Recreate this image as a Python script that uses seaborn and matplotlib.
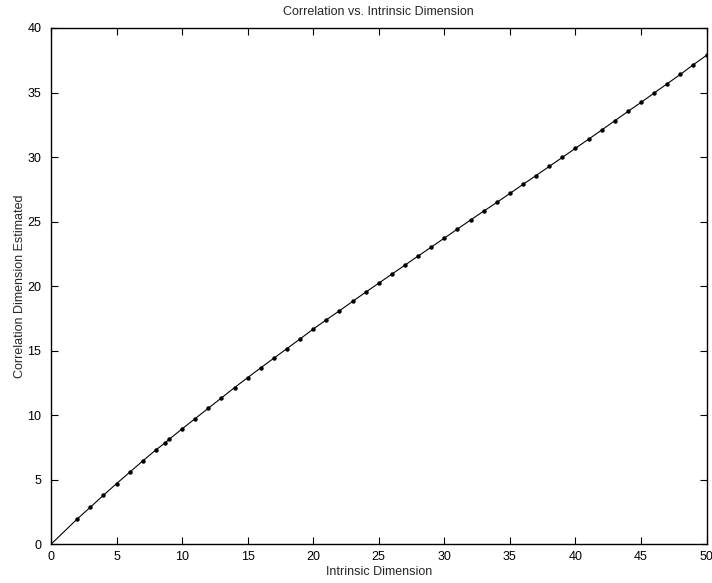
import pandas as pd
import numpy as np
import matplotlib
matplotlib.use("Agg")
import matplotlib.pyplot as plt
import seaborn as sns

# values
intrinsic_dim = [0, 2, 3, 4, 5, 6, 7, 8, 8.67, 9,
                 10, 11, 12, 13, 14, 15, 16, 17, 18, 19,
                 20, 21, 22, 23, 24, 25, 26, 27, 28, 29,
                 30, 31, 32, 33, 34, 35, 36, 37, 38, 39,
                 40, 41, 42, 43, 44, 45, 46, 47, 48, 49, 50]
corr_dim = [0.0, 1.96, 2.87, 3.80, 4.70, 5.58, 6.46, 7.31, 7.83, 8.12,
            8.94, 9.74, 10.54, 11.34, 12.14, 12.91, 13.67, 14.42, 15.16, 15.91,
            16.67, 17.39, 18.09, 18.81, 19.53, 20.23, 20.93, 21.63, 22.33, 23.02,
            23.72, 24.42, 25.12, 25.81, 26.48, 27.18, 27.88, 28.57, 29.27, 29.97,
            30.68, 31.38, 32.09, 32.81, 33.53, 34.23, 34.96, 35.68, 36.40, 37.16, 37.88]

x_ticks = [0, 5, 10, 15, 20, 25, 30, 35, 40, 45, 50]
y_ticks = [0, 5, 10, 15, 20, 25, 30, 35, 40]

df = pd.DataFrame({"dim": intrinsic_dim, "corr": corr_dim})

sns.set_style("ticks")
plt.rcParams["font.family"] = ["Liberation Sans", "DejaVu Sans"]

fig = plt.figure(figsize=(7.12, 5.83), dpi=100)
ax = fig.add_axes([0.0716, 0.0664, 0.9207, 0.8856])

# no dot at the origin in the reference, only the line starts there
sns.lineplot(data=df, x="dim", y="corr", ax=ax, color="black", linewidth=0.8,
             marker="o", markersize=3.2, markeredgewidth=0, sort=False,
             estimator=None, markevery=list(range(1, len(df))))

ax.set_xlim(0, 50)
ax.set_ylim(0, 40)
ax.set_xticks(x_ticks)
ax.set_yticks(y_ticks)
for s in ax.spines.values():
    s.set_visible(True)
    s.set_linewidth(1.0)
    s.set_color("black")
ax.tick_params(direction="in", length=5, width=0.8, top=True, right=True,
               labelsize=9, colors="black")
ax.tick_params(axis="x", pad=5)
ax.tick_params(axis="y", pad=7)

ax.set_title("Correlation vs. Intrinsic Dimension", fontsize=9, pad=9)
ax.set_xlabel("Intrinsic Dimension", fontsize=9, labelpad=2)
ax.set_ylabel("Correlation Dimension Estimated", fontsize=9, labelpad=1)

fig.savefig("out.png", dpi=100)
